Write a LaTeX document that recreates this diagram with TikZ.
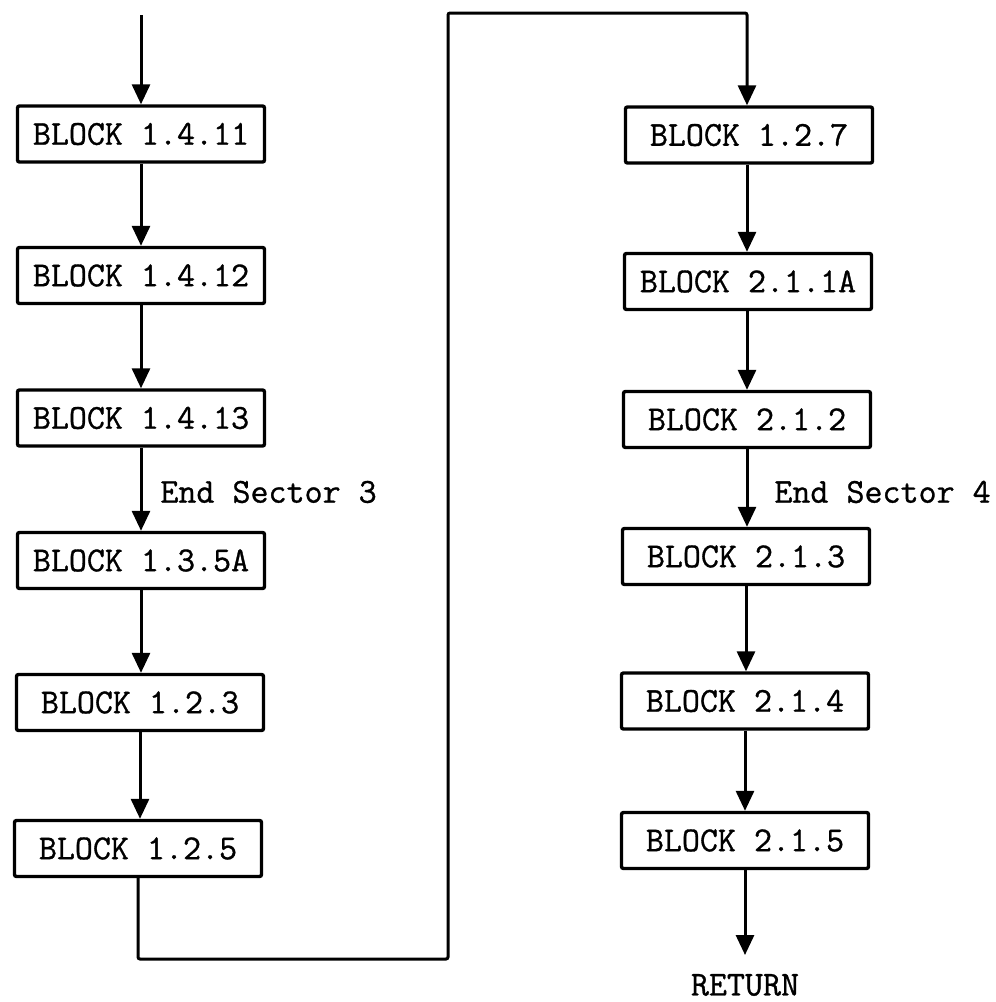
\documentclass[tikz,border=0pt]{standalone}
\usepackage{fontspec}
\newfontfamily\typew{Latin Modern Mono}[RawFeature={embolden=0.9}]
\usetikzlibrary{arrows.meta}
\begin{document}
\begin{tikzpicture}[x=0.5pt,y=-0.5pt,
  blk/.style={draw, line width=1.7pt, rounded corners=1pt, minimum width=123.5pt, minimum height=28pt, inner sep=0pt, font=\typew\fontsize{17.5}{20}\selectfont},
  lbl/.style={font=\typew\fontsize{17.5}{20}\selectfont, inner sep=0pt},
  flow/.style={line width=1.5pt, -{Triangle[width=9pt,length=10pt]}}]
\useasboundingbox (0,0) rectangle (996,1002);
% left column
\coordinate (start) at (141,15);
\node[blk] (b1) at (141,134) {BLOCK 1.4.11};
\node[blk] (b2) at (141,275.5) {BLOCK 1.4.12};
\node[blk] (b3) at (141,418) {BLOCK 1.4.13};
\node[blk] (b4) at (141,560.5) {BLOCK 1.3.5A};
\node[blk] (b5) at (140,702.5) {BLOCK 1.2.3};
\node[blk] (b6) at (138,848.5) {BLOCK 1.2.5};
% right column
\node[blk] (b7) at (749,135) {BLOCK 1.2.7};
\node[blk] (b8) at (748,281.5) {BLOCK 2.1.1A};
\node[blk] (b9) at (747,419.5) {BLOCK 2.1.2};
\node[blk] (b10) at (746,556.5) {BLOCK 2.1.3};
\node[blk] (b11) at (745,701) {BLOCK 2.1.4};
\node[blk] (b12) at (745,840.5) {BLOCK 2.1.5};
% labels
\node[lbl, anchor=west] (e3) at (160,492) {End Sector 3};
\node[lbl, anchor=west] (e4) at (774,492) {End Sector 4};
\node[lbl] (ret) at (745,985) {RETURN};
% connector corners
\coordinate (c1) at (138,959);
\coordinate (c2) at (448,959);
\coordinate (c3) at (448,13);
\coordinate (c4) at (747,13);
\coordinate (fin) at (745,955);
% connectors
\draw[flow] (start) -- (b1.north);
\draw[flow] (b1.south) -- (b1.south |- b2.north);
\draw[flow] (b2.south) -- (b2.south |- b3.north);
\draw[flow] (b3.south) -- (b3.south |- b4.north);
\draw[flow] (b4.south) -- (b4.south |- b5.north);
\draw[flow] (b5.south) -- (b5.south |- b6.north);
\draw[flow, rounded corners=1pt] (b6.south) -- (c1) -- (c2) -- (c3) -- (c4) -- (c4 |- b7.north);
\draw[flow] (c4 |- b7.south) -- (c4 |- b8.north);
\draw[flow] (c4 |- b8.south) -- (c4 |- b9.north);
\draw[flow] (c4 |- b9.south) -- (c4 |- b10.north);
\draw[flow] (b10.south) -- (b10.south |- b11.north);
\draw[flow] (b11.south) -- (b11.south |- b12.north);
\draw[flow] (b12.south) -- (fin);
\end{tikzpicture}
\end{document}
